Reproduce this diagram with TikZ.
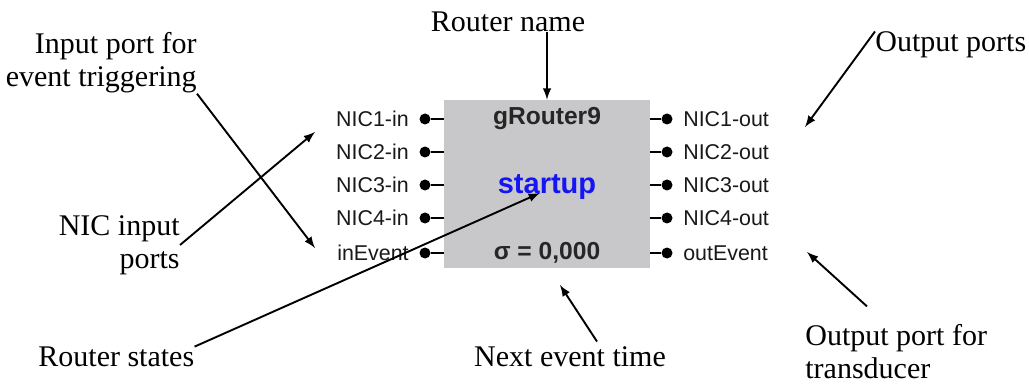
\documentclass[tikz,border=0pt]{standalone}
\usepackage{fontspec}
\setmainfont{Liberation Serif}
\newfontfamily\portfont{Liberation Sans}
\usetikzlibrary{positioning,arrows,calc}
\definecolor{boxgray}{RGB}{200,200,202}
\definecolor{stateblue}{RGB}{20,20,245}
\tikzset{
  model/.style={rectangle, minimum width = 103pt, minimum height = 84pt, fill=boxgray, inner sep=0pt},
  port/.style={font=\portfont\fontsize{10.7}{12}\selectfont, inner sep=0pt, text=black!90},
  pin/.style={circle, fill=black, minimum size = 5.5pt, inner sep=0pt},
  note/.style={font=\fontsize{15}{16.5}\selectfont, inner sep=0pt},
  connect/.style={-latex, line width=0.95pt},
  wire/.style={line width=0.8pt}
}
\begin{document}
\begin{tikzpicture}[x=0.5pt,y=-0.5pt]
    \useasboundingbox (0,0) rectangle (1029,385);
    \node[model] (Router) at (547,184) {};
    \node[font=\portfont\bfseries\fontsize{12.3}{14}\selectfont, text=black!85] (Name) at (547,119) {gRouter9};
    \node[font=\portfont\bfseries\fontsize{14.5}{16}\selectfont, text=stateblue] (State) at (547,187) {startup};
    \node[font=\portfont\bfseries\fontsize{12.3}{14}\selectfont, text=black!85] (Sigma) at (547,253) {σ = 0,000};

    % input ports
    \node[pin] (D1) at (425,119) {};
    \node[pin] (D2) at (425,152) {};
    \node[pin] (D3) at (425,185) {};
    \node[pin] (D4) at (425,218) {};
    \node[pin] (D5) at (425,253) {};
    \node[port] (I1) [left=5pt of D1] {NIC1-in};
    \node[port] (I2) [left=5pt of D2] {NIC2-in};
    \node[port] (I3) [left=5pt of D3] {NIC3-in};
    \node[port] (I4) [left=5pt of D4] {NIC4-in};
    \node[port] (I5) [left=5pt of D5] {inEvent};

    % output ports
    \node[pin] (E1) at (667,119) {};
    \node[pin] (E2) at (667,152) {};
    \node[pin] (E3) at (667,185) {};
    \node[pin] (E4) at (667,218) {};
    \node[pin] (E5) at (667,253) {};
    \node[port] (O1) [right=5pt of E1] {NIC1-out};
    \node[port] (O2) [right=5pt of E2] {NIC2-out};
    \node[port] (O3) [right=5pt of E3] {NIC3-out};
    \node[port] (O4) [right=5pt of E4] {NIC4-out};
    \node[port] (O5) [right=5pt of E5] {outEvent};

    \path[wire] (D1) edge (D1 -| Router.west)
                (D2) edge (D2 -| Router.west)
                (D3) edge (D3 -| Router.west)
                (D4) edge (D4 -| Router.west)
                (D5) edge (D5 -| Router.west);
    \path[wire] (E1) edge (E1 -| Router.east)
                (E2) edge (E2 -| Router.east)
                (E3) edge (E3 -| Router.east)
                (E4) edge (E4 -| Router.east)
                (E5) edge (E5 -| Router.east);

    % notes
    \node[note] (RName) at (508,22) {Router name};
    \node[note, align=right, anchor=east] (Trig) at (197,63) {Input port for\\event triggering};
    \node[note, align=right, anchor=east] (NicIn) at (180,245) {NIC input\\ports};
    \node[note, anchor=west] (States) at (38,357) {Router states};
    \node[note] (Next) at (570,357) {Next event time};
    \node[note, anchor=west] (OutP) at (875,45) {Output ports};
    \node[note, align=left, anchor=west] (Trans) at (805,352) {Output port for\\transducer};

    \coordinate (trigTip) at (315,248);
    \coordinate (nicTip) at (315,132);
    \coordinate (stateTip) at (540,193);
    \coordinate (nextTip) at (560,285);
    \coordinate (outTip) at (805,127);
    \coordinate (transTip) at (807,252);

    \draw[connect] (RName.south -| Router.north) -- (Router.north);
    \draw[connect] (Trig.south east) -- (trigTip);
    \draw[connect] (NicIn.east) -- (nicTip);
    \draw[connect] (States.north east) -- (stateTip);
    \draw[connect] (Next.north) ++(27,-5) -- (nextTip);
    \draw[connect] (OutP.north west) -- (outTip);
    \draw[connect] ($(Trans.north west)+(62,-18)$) -- (transTip);
\end{tikzpicture}
\end{document}
